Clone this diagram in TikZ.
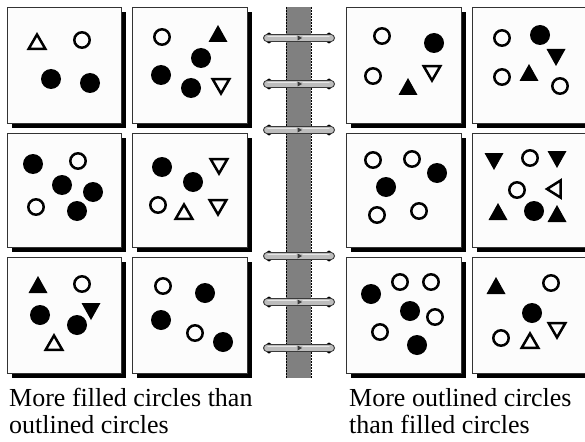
\documentclass[tikz,border=0pt]{standalone}
\usepackage{fontspec}
\setmainfont{Liberation Serif}
\definecolor{bargray}{HTML}{808080}
\definecolor{ringgray}{HTML}{BDBDBD}
\definecolor{ringdark}{HTML}{3A3A3A}
\definecolor{ringlight}{HTML}{E6E6E6}
\definecolor{panelline}{HTML}{333333}
\definecolor{panelfill}{HTML}{FCFCFC}
\tikzset{
  shp/.style={line width=2.5pt, line join=miter},
  fc/.pic={\fill (0,0) circle (10);},
  oc/.pic={\draw[shp] (0,0) circle (7.7);},
  ftu/.pic={\fill (0,-9) -- (9.5,8) -- (-9.5,8) -- cycle;},
  ftd/.pic={\fill (0,9) -- (9.5,-8) -- (-9.5,-8) -- cycle;},
  otu/.pic={\draw[shp] (0,-7.5) -- (8.3,6.8) -- (-8.3,6.8) -- cycle;},
  otd/.pic={\draw[shp] (0,7.5) -- (8.3,-6.8) -- (-8.3,-6.8) -- cycle;},
  otl/.pic={\draw[shp] (-7,0) -- (6.5,-8.5) -- (6.5,8.5) -- cycle;},
  panelbox/.style={draw=panelline, line width=0.7pt, fill=panelfill},
  caption/.style={anchor=base west, inner sep=0pt, font=\fontsize{26}{28}\selectfont}
}
\newcommand\Panel[4]{%
  \fill[black] ({#1+5},{#2+5}) rectangle ({#3+5},{#4+5});
  \draw[panelbox] (#1,#2) rectangle (#3,#4);}
\begin{document}
\begin{tikzpicture}[x=1pt,y=-1pt]
\useasboundingbox (0,0) rectangle (585,441);
\clip (0,0) rectangle (585,441);
\fill[white] (0,0) rectangle (585,441);
% panels
\Panel{7}{7}{121}{123}
\Panel{132}{7}{247}{123}
\Panel{7}{133}{121}{247}
\Panel{132}{133}{247}{247}
\Panel{7}{257}{121}{373}
\Panel{132}{257}{247}{373}
\Panel{346}{7}{461}{123}
\Panel{472}{7}{587}{123}
\Panel{346}{133}{461}{247}
\Panel{472}{133}{587}{247}
\Panel{346}{257}{461}{373}
\Panel{472}{257}{587}{373}
% panel 1,1
\pic at (37,42) {otu};
\pic at (82,40) {oc};
\pic at (51,79) {fc};
\pic at (90,83) {fc};
% panel 1,2
\pic at (162,37) {oc};
\pic at (218,34) {ftu};
\pic at (201,58) {fc};
\pic at (161,75) {fc};
\pic at (191,88) {fc};
\pic at (221,86) {otd};
% panel 2,1
\pic at (33,164) {fc};
\pic at (78,161) {oc};
\pic at (62,185) {fc};
\pic at (93,192) {fc};
\pic at (36,207) {oc};
\pic at (77,211) {fc};
% panel 2,2
\pic at (162,167) {fc};
\pic at (219,166) {otd};
\pic at (193,182) {fc};
\pic at (158,205) {oc};
\pic at (184,212) {otu};
\pic at (218,207) {otd};
% panel 3,1
\pic at (38,285) {ftu};
\pic at (82,284) {oc};
\pic at (40,315) {fc};
\pic at (91,311) {ftd};
\pic at (77,325) {fc};
\pic at (54,343) {otu};
% panel 3,2
\pic at (163,286) {oc};
\pic at (205,293) {fc};
\pic at (161,320) {fc};
\pic at (195,333) {oc};
\pic at (223,342) {fc};
% panel 1,3
\pic at (382,36) {oc};
\pic at (434,43) {fc};
\pic at (373,76) {oc};
\pic at (408,87) {ftu};
\pic at (432,73) {otd};
% panel 1,4
\pic at (502,38) {oc};
\pic at (540,35) {fc};
\pic at (556,57) {ftd};
\pic at (502,77) {oc};
\pic at (529,73) {ftu};
\pic at (560,86) {oc};
% panel 2,3
\pic at (373,160) {oc};
\pic at (412,159) {oc};
\pic at (437,173) {fc};
\pic at (386,187) {fc};
\pic at (377,215) {oc};
\pic at (419,211) {oc};
% panel 2,4
\pic at (494,161) {ftd};
\pic at (530,158) {oc};
\pic at (557,159) {ftd};
\pic at (517,190) {oc};
\pic at (554,189) {otl};
\pic at (498,212) {ftu};
\pic at (534,211) {fc};
\pic at (557,214) {ftu};
% panel 3,3
\pic at (371,294) {fc};
\pic at (400,282) {oc};
\pic at (431,282) {oc};
\pic at (410,311) {fc};
\pic at (435,317) {oc};
\pic at (380,332) {oc};
\pic at (417,345) {fc};
% panel 3,4
\pic at (496,286) {ftu};
\pic at (551,283) {oc};
\pic at (532,313) {fc};
\pic at (557,330) {otd};
\pic at (501,338) {oc};
\pic at (530,341) {otu};
% binder spine
\fill[bargray] (286,7) rectangle (311,378);
\draw[black, line width=0.6pt, dash pattern=on 2pt off 1pt] (286,7) -- (286,378);
\draw[black, line width=0.6pt, dash pattern=on 2pt off 1pt] (311,7) -- (311,378);
% rings
\foreach \ry in {38,84,130,256,302,348}{
  \fill[black] (269,\ry) ellipse (3.5 and 5.5);
  \fill[black] (329,\ry) ellipse (3.5 and 5.5);
  \draw[ringdark, line width=8pt, line cap=round] (267,\ry) -- (331,\ry);
  \draw[ringgray, line width=5.6pt, line cap=round] (267,\ry) -- (331,\ry);
  \draw[ringlight, line width=1.4pt, line cap=round] (268,{\ry-1.3}) -- (296,{\ry-1.3});
  \draw[ringlight, line width=1.4pt, line cap=round] (303,{\ry-1.3}) -- (329,{\ry-1.3});
  \fill[ringdark] (297.5,{\ry-2.5}) -- (302,\ry) -- (297.5,{\ry+2.5}) -- cycle;
}
% captions
\node[caption] (capL1) at (9,406) {More filled circles than};
\node[caption] (capL2) at (9,433) {outlined circles};
\node[caption] (capR1) at (349,406) {More outlined circles};
\node[caption] (capR2) at (349,433) {than filled circles};
\end{tikzpicture}
\end{document}
